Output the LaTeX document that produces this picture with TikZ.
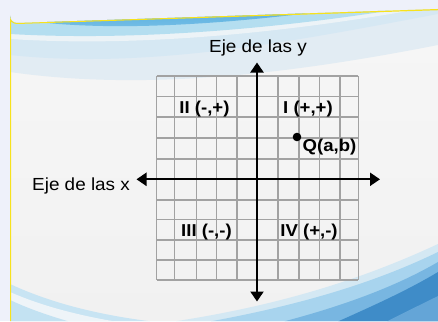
\documentclass[tikz,border=0pt]{standalone}
\usepackage{fontspec}
\setmainfont{Liberation Sans}[FakeStretch=1.08]
\usetikzlibrary{arrows.meta}
\definecolor{pagebg}{HTML}{EEF1FA}
\definecolor{panelbg}{HTML}{F1F1F1}
\definecolor{yell}{HTML}{F7E21C}
\definecolor{gridc}{HTML}{A2A2A2}
\tikzset{
  axis/.style={line width=2.2pt, black, {Triangle[length=10pt,width=13pt]}-{Triangle[length=10pt,width=13pt]}},
  gridline/.style={gridc, line width=1.1pt},
  axlabel/.style={font=\fontsize{17.5}{20}\selectfont, inner sep=0pt},
  quad/.style={font=\fontsize{17.2}{19}\selectfont\bfseries, inner sep=0pt},
}
\begin{document}
\begin{tikzpicture}[x=1pt,y=-1pt]
\useasboundingbox (0,0) rectangle (438,321);
\fill[pagebg] (0,0) rectangle (438,321);
% panel
\path[clip] (10,321) -- (10,16) arc[start angle=180,end angle=90,radius=7] -- (438,9) -- (438,321) -- cycle;
\shade[top color=panelbg!60!white, bottom color=panelbg] (0,0) rectangle (438,321);
% top swooshes
\fill[color={rgb,255:red,226;green,236;blue,243}] (0,0) -- (438,0) -- (438,45) .. controls (300,72) and (150,92) .. (10,72) -- cycle;
\fill[color={rgb,255:red,214;green,232;blue,243}] (0,0) -- (438,0) -- (438,14) .. controls (300,40) and (150,70) .. (10,55) -- cycle;
\fill[color={rgb,255:red,236;green,243;blue,247}] (0,0) -- (438,0) -- (420,9) .. controls (300,30) and (150,48) .. (10,39) -- cycle;
\fill[color={rgb,255:red,180;green,222;blue,240}] (0,0) -- (438,0) -- (400,9) .. controls (300,25) and (150,42) .. (10,34) -- cycle;
\shade[top color={rgb,255:red,76;green,166;blue,220}, bottom color={rgb,255:red,125;green,196;blue,232}] (0,0) -- (360,0) -- (340,9) .. controls (230,24) and (100,34) .. (10,18) -- cycle;
% bottom-left swooshes
\fill[color={rgb,255:red,200;green,228;blue,243}] (10,284) .. controls (70,312) and (140,322) .. (200,326) -- (0,330) -- cycle;
\fill[color={rgb,255:red,238;green,244;blue,248}] (10,292) .. controls (60,314) and (120,324) .. (180,330) -- (0,330) -- cycle;
\fill[color={rgb,255:red,195;green,226;blue,242}] (10,300) .. controls (40,314) and (70,322) .. (100,330) -- (0,330) -- cycle;
% bottom-right swooshes
\fill[color={rgb,255:red,212;green,232;blue,243}] (150,325) .. controls (260,310) and (350,285) .. (438,244) -- (438,330) -- cycle;
\fill[color={rgb,255:red,168;green,212;blue,238}] (190,325) .. controls (290,308) and (370,285) .. (438,252) -- (438,330) -- cycle;
\fill[color={rgb,255:red,120;green,182;blue,225}] (270,325) .. controls (330,310) and (390,290) .. (438,262) -- (438,330) -- cycle;
\fill[color={rgb,255:red,63;green,140;blue,200}] (330,325) .. controls (375,305) and (408,290) .. (438,272) -- (438,330) -- cycle;
\fill[color={rgb,255:red,100;green,165;blue,215}] (380,325) .. controls (405,312) and (420,305) .. (438,296) -- (438,330) -- cycle;
% yellow border
\draw[yell, line width=2pt] (10,330) -- (10,16) arc[start angle=180,end angle=90,radius=7] -- (445,9);
% grid
\foreach \x in {156.7,174.3,196.5,216.7,237,278,299,319.3,340,358.3}
  \draw[gridline] (\x,76) -- (\x,280);
\foreach \y in {76,96.7,117,138,159,200,219.5,240,260,280}
  \draw[gridline] (156.7,\y) -- (358.3,\y);
\draw[gridline] (156.7,179.3) -- (358.3,179.3);
\draw[gridline] (257,76) -- (257,280);
% axes
\coordinate (xl) at (136.5,179.3);
\coordinate (xr) at (380,179.3);
\coordinate (yt) at (257,62.5);
\coordinate (yb) at (257,301.5);
\draw[axis] (xl) -- (xr);
\draw[axis] (yb) -- (yt);
% labels
\node[axlabel, anchor=base] (ly) at (258,52.7) {Eje de las y};
\node[axlabel, anchor=base west] (lx) at (32,190) {Eje de las x};
\node[quad, anchor=base] (q2) at (204.5,113.3) {II (-,+)};
\node[quad, anchor=base] (q1) at (308,113.3) {I (+,+)};
\node[quad, anchor=base] (q3) at (206.5,236.7) {III (-,-)};
\node[quad, anchor=base] (q4) at (309,236.7) {IV (+,-)};
\fill (297,137) circle[radius=4.3];
\node[quad, anchor=base west] (qab) at (302.5,151) {Q(a,b)};
\end{tikzpicture}
\end{document}
